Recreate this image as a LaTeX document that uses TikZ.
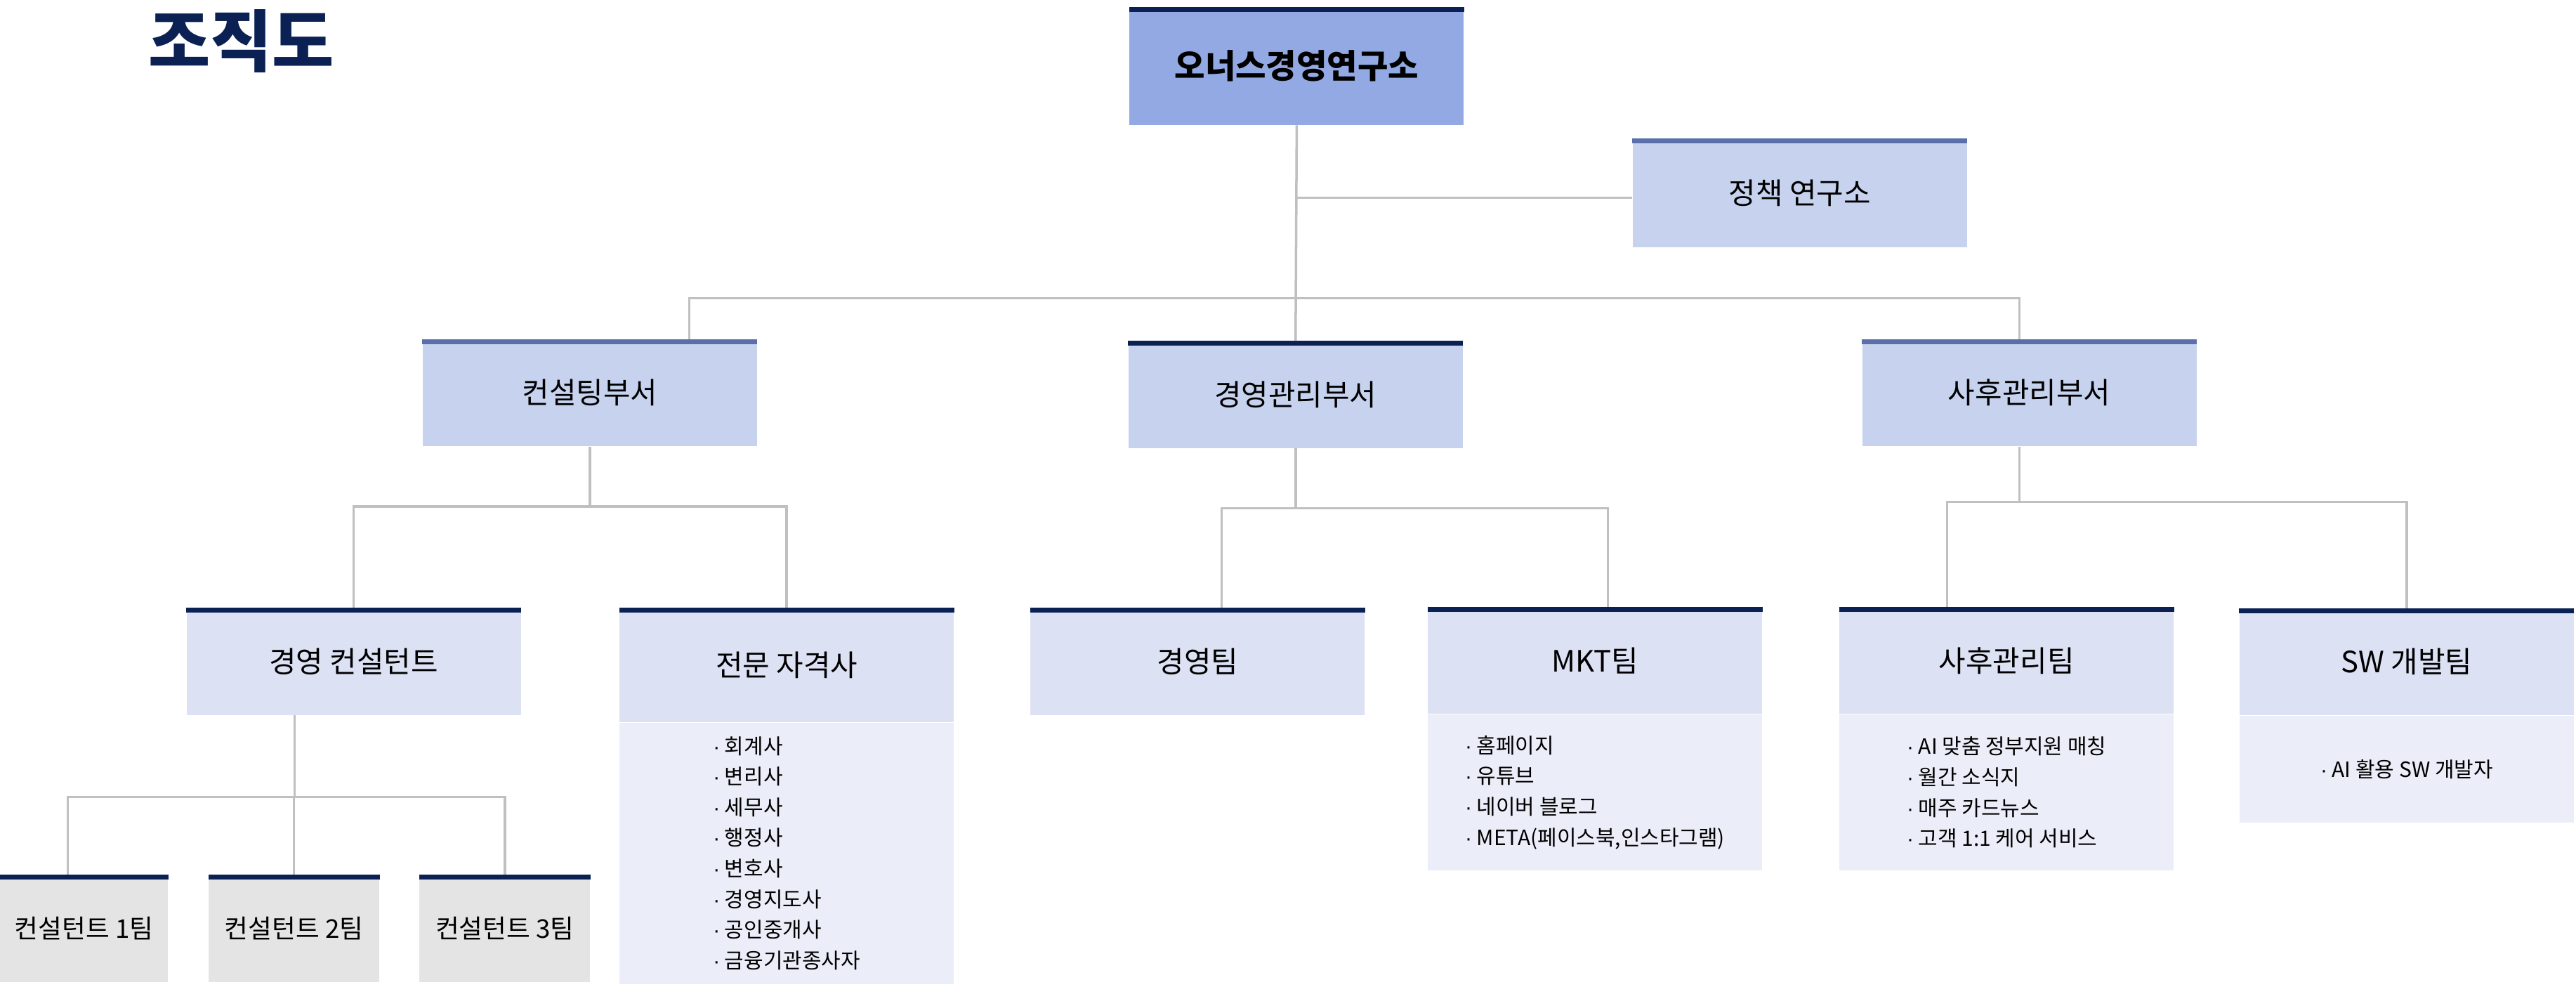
\documentclass[tikz,border=0pt]{standalone}
\usepackage{fontspec}
\setmainfont{Noto Sans CJK KR}
\newfontfamily\dotfont{Liberation Sans}
\usetikzlibrary{calc}
\definecolor{navy}{HTML}{0B2154}
\definecolor{midBlue}{HTML}{5B70AA}
\definecolor{rootFill}{HTML}{93A9E3}
\definecolor{deptFill}{HTML}{C6D2EE}
\definecolor{teamFill}{HTML}{DCE1F4}
\definecolor{listFill}{HTML}{EBEEF8}
\definecolor{unitFill}{HTML}{E4E4E4}
\definecolor{linkGray}{HTML}{C0C0C0}
\tikzstyle{block} = [rectangle, minimum width=203.5pt, minimum height=65pt, inner sep=0pt, text centered, font=\fontsize{17.9}{21}\selectfont]
\tikzstyle{listbox} = [rectangle, fill=listFill, minimum width=203.5pt, inner sep=0pt, align=left, anchor=north, font=\fontsize{12.8}{18.65}\selectfont]
\tikzstyle{topbar} = [line width=3pt]
\tikzstyle{link} = [draw=linkGray, line width=1.5pt]
\newcommand{\barshift}{1.5pt}
\newcommand{\busdrop}{36.5pt}
\newcommand{\barline}[2]{\draw [topbar, #2] ([yshift=-\barshift]#1.north west) -- ([yshift=-\barshift]#1.north east);}
\newcommand{\itemdot}{{\dotfont ·} }

\begin{document}
\begin{tikzpicture}[x=1pt,y=1pt]

  %\draw[help lines] (0,0) grid (1568,-600);
  \useasboundingbox (0,0) rectangle (1568,-600.2);

  % Title
  \node [inner sep=0pt, text=navy, font=\fontsize{41}{44}\selectfont\bfseries] (title) at (147,-25) {조직도};


  % Root
  \node [block, fill=rootFill, minimum height=71.7pt, font=\fontsize{20.2}{23}\selectfont\bfseries] (rootBlock) at (789.3,-40.2) {오너스경영연구소};

  % Policy institute
  \node [block, fill=deptFill, minimum height=65.8pt] (policyBlock) at (1095.5,-117.4) {정책 연구소};


  % Departments
  \node [block, fill=deptFill] (consultBlock) at (359,-239) {컨설팅부서};
  \node [block, fill=deptFill] (adminBlock) at (788.6,-240.1) {경영관리부서};
  \node [block, fill=deptFill] (careBlock) at (1235.2,-239) {사후관리부서};


  % Consulting teams
  \node [block, fill=teamFill] (advisorBlock) at (215.3,-402.5) {경영 컨설턴트};
  \node [block, fill=teamFill, minimum height=69.3pt] (expertBlock) at (478.8,-404.65) {전문 자격사};
  \node [listbox, minimum height=159pt] (expertList) at (expertBlock.south) {\itemdot 회계사\\\itemdot 변리사\\\itemdot 세무사\\\itemdot 행정사\\\itemdot 변호사\\\itemdot 경영지도사\\\itemdot 공인중개사\\\itemdot 금융기관종사자};


  % Admin teams
  \node [block, fill=teamFill] (mgmtTeamBlock) at (729,-402.6) {경영팀};
  \node [block, fill=teamFill] (mktBlock) at (970.8,-402) {MKT팀};
  \node [listbox, minimum height=94.7pt] (mktList) at (mktBlock.south) {\itemdot 홈페이지\\\itemdot 유튜브\\\itemdot 네이버 블로그\\\itemdot META(페이스북,인스타그램)};


  % Care teams
  \node [block, fill=teamFill] (careTeamBlock) at (1221.4,-402) {사후관리팀};
  \node [listbox, minimum height=94.7pt] (careList) at (careTeamBlock.south) {\itemdot AI 맞춤 정부지원 매칭\\\itemdot 월간 소식지\\\itemdot 매주 카드뉴스\\\itemdot 고객 1:1 케어 서비스};
  \node [block, fill=teamFill] (swBlock) at (1464.9,-402.8) {SW 개발팀};
  \node [listbox, minimum height=64.9pt] (swList) at (swBlock.south) {\itemdot AI 활용 SW 개발자};


  % Consultant units
  \node [block, fill=unitFill, minimum width=102.3pt, minimum height=65.3pt, font=\fontsize{15.7}{18}\selectfont] (unitOneBlock) at (51.15,-564.85) {컨설턴트 1팀};
  \node [block, fill=unitFill, minimum width=104pt, minimum height=65.3pt, font=\fontsize{15.7}{18}\selectfont] (unitTwoBlock) at (179,-564.85) {컨설턴트 2팀};
  \node [block, fill=unitFill, minimum width=103.8pt, minimum height=65.3pt, font=\fontsize{15.7}{18}\selectfont] (unitThreeBlock) at (307.3,-564.85) {컨설턴트 3팀};


  % Top bars
  \barline{rootBlock}{navy}
  \barline{policyBlock}{midBlue}
  \barline{consultBlock}{midBlue}
  \barline{adminBlock}{navy}
  \barline{careBlock}{midBlue}
  \barline{advisorBlock}{navy}
  \barline{expertBlock}{navy}
  \barline{mgmtTeamBlock}{navy}
  \barline{mktBlock}{navy}
  \barline{careTeamBlock}{navy}
  \barline{swBlock}{navy}
  \barline{unitOneBlock}{navy}
  \barline{unitTwoBlock}{navy}
  \barline{unitThreeBlock}{navy}


  % Root to departments
  \coordinate (deptBus) at ([yshift=-105.3pt]rootBlock.south);
  \draw [link] (rootBlock.south) -- (adminBlock.north);
  \draw [link] ([yshift=-3pt]rootBlock.south |- policyBlock.west) -- ([yshift=-3pt]policyBlock.west);
  \draw [link] ([xshift=60.6pt]consultBlock.north) |- (deptBus) -| ([xshift=-5.9pt]careBlock.north);

  % Consulting department
  \coordinate (consultBus) at ([yshift=-\busdrop]consultBlock.south);
  \draw [link] (consultBlock.south) -- (consultBus);
  \draw [link] (advisorBlock.north) |- (consultBus) -| (expertBlock.north);

  % Admin department
  \coordinate (adminBus) at ([yshift=-\busdrop]adminBlock.south);
  \draw [link] (adminBlock.south) -- (adminBus);
  \draw [link] ([xshift=14.6pt]mgmtTeamBlock.north) |- (adminBus) -| ([xshift=8pt]mktBlock.north);

  % Care department
  \coordinate (careBus) at ([xshift=-5.9pt,yshift=-33.7pt]careBlock.south);
  \draw [link] ([xshift=-5.9pt]careBlock.south) -- (careBus);
  \draw [link] ([xshift=-36.2pt]careTeamBlock.north) |- (careBus) -| (swBlock.north);

  % Consultant units
  \coordinate (unitBus) at ([xshift=-35.9pt,yshift=-49.8pt]advisorBlock.south);
  \draw [link] ([xshift=-35.9pt]advisorBlock.south) -- (unitBus);
  \draw [link] ([xshift=-10pt]unitOneBlock.north) |- (unitBus) -| (unitThreeBlock.north);
  \draw [link] (unitTwoBlock.north) -- (unitTwoBlock.north |- unitBus);

\end{tikzpicture}
\end{document}
